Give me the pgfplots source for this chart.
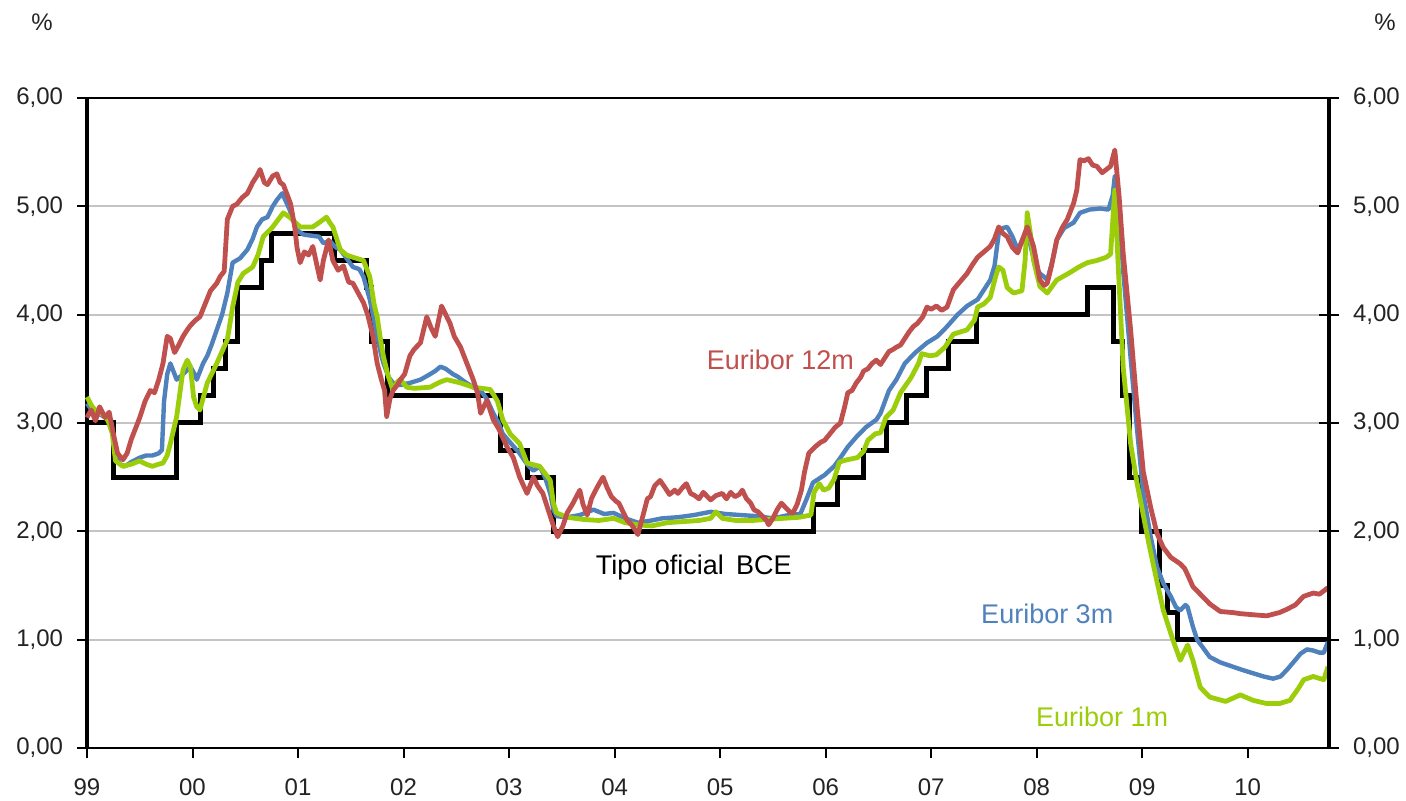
\documentclass[border=0pt]{standalone}
\usepackage{pgfplots}
\pgfplotsset{compat=1.18}
\usepackage{pgfplotstable}
\usepackage{fontspec}
\setmainfont{Liberation Sans}

\definecolor{eur12}{RGB}{192,80,77}
\definecolor{eur3}{RGB}{79,129,189}
\definecolor{eur1}{RGB}{155,205,10}
\definecolor{gridgray}{RGB}{196,196,196}
\definecolor{txt}{RGB}{35,35,35}

% ECB main refinancing rate (step series)
\pgfplotstableread{
x y
1999.00 3.00
1999.25 2.50
1999.85 3.00
2000.08 3.25
2000.20 3.50
2000.31 3.75
2000.43 4.25
2000.65 4.50
2000.75 4.75
2001.35 4.50
2001.65 4.25
2001.70 3.75
2001.85 3.25
2002.92 2.75
2003.17 2.50
2003.42 2.00
2005.88 2.25
2006.11 2.50
2006.36 2.75
2006.58 3.00
2006.77 3.25
2006.96 3.50
2007.16 3.75
2007.43 4.00
2008.48 4.25
2008.73 3.75
2008.81 3.25
2008.88 2.50
2008.99 2.00
2009.16 1.50
2009.24 1.25
2009.33 1.00
2010.77 1.00
}\bce

% Euribor 12 months
\pgfplotstableread{
x y
1999.00 3.05
1999.04 3.12
1999.08 3.02
1999.12 3.15
1999.17 3.05
1999.21 3.10
1999.25 2.90
1999.29 2.72
1999.34 2.66
1999.38 2.72
1999.42 2.85
1999.46 2.95
1999.50 3.05
1999.55 3.20
1999.60 3.30
1999.64 3.28
1999.68 3.40
1999.72 3.55
1999.76 3.80
1999.79 3.78
1999.83 3.65
1999.87 3.72
1999.91 3.80
1999.95 3.86
1999.98 3.90
2000.03 3.95
2000.07 3.98
2000.12 4.10
2000.17 4.22
2000.23 4.29
2000.26 4.35
2000.30 4.40
2000.33 4.88
2000.38 5.00
2000.42 5.02
2000.47 5.08
2000.52 5.12
2000.57 5.22
2000.61 5.28
2000.64 5.34
2000.68 5.22
2000.71 5.20
2000.76 5.28
2000.80 5.30
2000.83 5.22
2000.86 5.20
2000.90 5.10
2000.93 5.02
2000.97 4.80
2000.99 4.62
2001.02 4.48
2001.06 4.58
2001.10 4.55
2001.14 4.63
2001.18 4.45
2001.21 4.32
2001.24 4.50
2001.29 4.69
2001.33 4.50
2001.38 4.41
2001.43 4.45
2001.48 4.30
2001.52 4.29
2001.57 4.20
2001.62 4.11
2001.66 4.00
2001.71 3.80
2001.75 3.55
2001.79 3.40
2001.82 3.30
2001.84 3.06
2001.87 3.22
2001.90 3.30
2001.94 3.35
2001.97 3.40
2002.01 3.45
2002.06 3.62
2002.10 3.68
2002.16 3.74
2002.22 3.98
2002.26 3.88
2002.30 3.80
2002.36 4.08
2002.40 4.00
2002.44 3.92
2002.48 3.80
2002.54 3.70
2002.60 3.55
2002.66 3.40
2002.70 3.28
2002.73 3.09
2002.79 3.21
2002.85 3.03
2002.90 2.95
2002.98 2.78
2003.04 2.68
2003.10 2.50
2003.17 2.35
2003.23 2.50
2003.27 2.42
2003.32 2.35
2003.37 2.20
2003.42 2.05
2003.46 1.95
2003.51 2.05
2003.55 2.17
2003.60 2.25
2003.67 2.38
2003.70 2.25
2003.74 2.15
2003.78 2.30
2003.82 2.38
2003.86 2.45
2003.89 2.50
2003.93 2.40
2003.97 2.32
2004.01 2.28
2004.04 2.26
2004.08 2.18
2004.12 2.10
2004.16 2.06
2004.19 2.02
2004.22 1.97
2004.27 2.15
2004.31 2.30
2004.34 2.32
2004.38 2.42
2004.43 2.47
2004.48 2.40
2004.52 2.34
2004.57 2.38
2004.60 2.35
2004.64 2.40
2004.68 2.44
2004.72 2.35
2004.76 2.33
2004.80 2.30
2004.84 2.36
2004.88 2.32
2004.91 2.29
2004.96 2.33
2005.02 2.35
2005.06 2.30
2005.10 2.36
2005.14 2.32
2005.18 2.34
2005.21 2.38
2005.25 2.30
2005.29 2.26
2005.32 2.20
2005.36 2.18
2005.40 2.14
2005.44 2.10
2005.46 2.06
2005.50 2.12
2005.54 2.20
2005.58 2.26
2005.62 2.22
2005.66 2.18
2005.69 2.17
2005.73 2.25
2005.77 2.38
2005.80 2.55
2005.84 2.72
2005.90 2.78
2005.95 2.82
2005.99 2.84
2006.04 2.90
2006.09 2.96
2006.14 3.00
2006.18 3.15
2006.21 3.28
2006.25 3.30
2006.29 3.37
2006.33 3.42
2006.36 3.48
2006.40 3.50
2006.44 3.55
2006.48 3.58
2006.52 3.54
2006.56 3.60
2006.60 3.66
2006.64 3.68
2006.67 3.70
2006.71 3.72
2006.75 3.78
2006.79 3.84
2006.83 3.89
2006.87 3.92
2006.92 3.98
2006.96 4.07
2007.00 4.05
2007.05 4.08
2007.10 4.04
2007.15 4.07
2007.21 4.23
2007.27 4.30
2007.34 4.38
2007.39 4.46
2007.44 4.53
2007.50 4.58
2007.56 4.63
2007.60 4.70
2007.64 4.81
2007.68 4.75
2007.72 4.72
2007.77 4.62
2007.82 4.57
2007.86 4.68
2007.91 4.81
2007.94 4.72
2007.97 4.63
2008.00 4.48
2008.03 4.32
2008.07 4.27
2008.10 4.29
2008.14 4.45
2008.19 4.69
2008.24 4.80
2008.29 4.88
2008.35 5.03
2008.38 5.15
2008.41 5.43
2008.45 5.42
2008.49 5.44
2008.53 5.38
2008.57 5.37
2008.62 5.31
2008.66 5.34
2008.70 5.37
2008.74 5.52
2008.78 5.10
2008.82 4.56
2008.89 3.86
2008.95 3.16
2009.01 2.55
2009.08 2.22
2009.14 1.98
2009.20 1.85
2009.27 1.76
2009.36 1.70
2009.40 1.66
2009.43 1.60
2009.48 1.49
2009.55 1.42
2009.64 1.33
2009.74 1.26
2009.86 1.25
2009.93 1.24
2010.05 1.23
2010.18 1.22
2010.30 1.25
2010.37 1.28
2010.45 1.32
2010.53 1.40
2010.62 1.43
2010.68 1.42
2010.72 1.45
2010.76 1.48
}\eurdoce

% Euribor 3 months
\pgfplotstableread{
x y
1999.00 3.18
1999.06 3.10
1999.12 3.08
1999.18 3.05
1999.23 3.00
1999.27 2.70
1999.31 2.62
1999.36 2.60
1999.42 2.64
1999.50 2.68
1999.56 2.70
1999.62 2.70
1999.68 2.72
1999.71 2.75
1999.73 3.20
1999.76 3.45
1999.79 3.55
1999.83 3.45
1999.85 3.40
1999.91 3.45
1999.98 3.52
2000.02 3.45
2000.04 3.40
2000.10 3.55
2000.14 3.62
2000.18 3.72
2000.23 3.86
2000.28 4.00
2000.33 4.20
2000.38 4.48
2000.45 4.52
2000.52 4.60
2000.57 4.70
2000.61 4.81
2000.66 4.88
2000.71 4.90
2000.76 5.00
2000.80 5.06
2000.85 5.12
2000.92 4.97
2000.99 4.78
2001.05 4.74
2001.12 4.73
2001.20 4.72
2001.24 4.66
2001.30 4.68
2001.36 4.62
2001.40 4.60
2001.46 4.52
2001.52 4.44
2001.58 4.42
2001.62 4.35
2001.68 4.14
2001.72 3.95
2001.75 3.80
2001.79 3.62
2001.81 3.55
2001.86 3.42
2001.90 3.37
2001.97 3.35
2002.06 3.37
2002.16 3.40
2002.25 3.45
2002.30 3.48
2002.35 3.52
2002.40 3.50
2002.47 3.45
2002.51 3.43
2002.58 3.38
2002.66 3.33
2002.73 3.30
2002.79 3.22
2002.85 3.09
2002.90 3.00
2002.94 2.90
2003.01 2.82
2003.10 2.72
2003.17 2.62
2003.23 2.56
2003.29 2.60
2003.34 2.50
2003.39 2.35
2003.42 2.20
2003.45 2.14
2003.55 2.13
2003.67 2.15
2003.80 2.20
2003.90 2.16
2003.99 2.17
2004.10 2.12
2004.22 2.08
2004.35 2.10
2004.45 2.12
2004.60 2.13
2004.75 2.15
2004.91 2.18
2005.05 2.16
2005.20 2.15
2005.35 2.14
2005.50 2.12
2005.65 2.15
2005.76 2.16
2005.82 2.30
2005.88 2.45
2005.99 2.52
2006.08 2.60
2006.14 2.68
2006.21 2.78
2006.29 2.87
2006.38 2.96
2006.48 3.03
2006.52 3.09
2006.60 3.30
2006.67 3.40
2006.75 3.55
2006.85 3.65
2006.96 3.74
2007.06 3.80
2007.15 3.89
2007.25 4.00
2007.34 4.08
2007.44 4.14
2007.56 4.32
2007.60 4.45
2007.64 4.75
2007.68 4.80
2007.72 4.81
2007.77 4.72
2007.82 4.60
2007.86 4.68
2007.91 4.78
2007.95 4.60
2007.99 4.45
2008.03 4.38
2008.08 4.34
2008.10 4.32
2008.15 4.50
2008.19 4.69
2008.26 4.80
2008.35 4.85
2008.41 4.94
2008.50 4.97
2008.60 4.98
2008.68 4.97
2008.72 5.10
2008.74 5.28
2008.77 5.10
2008.82 4.40
2008.89 3.60
2008.95 2.95
2009.01 2.35
2009.08 1.95
2009.14 1.67
2009.20 1.52
2009.27 1.40
2009.32 1.30
2009.36 1.27
2009.41 1.32
2009.43 1.30
2009.48 1.12
2009.52 1.00
2009.58 0.92
2009.64 0.84
2009.74 0.79
2009.86 0.75
2009.95 0.72
2010.05 0.69
2010.15 0.66
2010.24 0.64
2010.31 0.66
2010.37 0.72
2010.44 0.80
2010.50 0.87
2010.56 0.91
2010.62 0.90
2010.68 0.88
2010.72 0.88
2010.76 0.98
}\eurtres

% Euribor 1 month
\pgfplotstableread{
x y
1999.00 3.24
1999.05 3.15
1999.10 3.10
1999.15 3.08
1999.20 3.02
1999.24 2.90
1999.27 2.65
1999.34 2.60
1999.42 2.62
1999.50 2.65
1999.56 2.62
1999.62 2.60
1999.68 2.62
1999.72 2.63
1999.76 2.70
1999.79 2.81
1999.85 3.06
1999.91 3.49
1999.95 3.58
1999.98 3.52
2000.01 3.24
2000.04 3.15
2000.07 3.12
2000.14 3.37
2000.23 3.55
2000.33 3.77
2000.38 4.07
2000.43 4.30
2000.48 4.38
2000.57 4.44
2000.62 4.55
2000.67 4.72
2000.76 4.81
2000.86 4.94
2000.92 4.90
2001.02 4.81
2001.14 4.81
2001.20 4.85
2001.27 4.90
2001.30 4.85
2001.33 4.81
2001.40 4.60
2001.46 4.55
2001.52 4.53
2001.62 4.50
2001.68 4.35
2001.72 4.10
2001.75 3.98
2001.78 3.78
2001.81 3.61
2001.85 3.45
2001.90 3.30
2001.94 3.38
2001.97 3.40
2002.03 3.33
2002.10 3.32
2002.25 3.33
2002.35 3.38
2002.41 3.40
2002.54 3.37
2002.66 3.33
2002.82 3.31
2002.86 3.25
2002.89 3.20
2002.94 3.03
2003.01 2.90
2003.10 2.81
2003.17 2.63
2003.29 2.60
2003.39 2.47
2003.42 2.26
2003.45 2.17
2003.55 2.13
2003.70 2.11
2003.85 2.10
2003.99 2.12
2004.10 2.08
2004.22 2.06
2004.35 2.05
2004.50 2.08
2004.65 2.09
2004.80 2.10
2004.91 2.12
2004.96 2.18
2005.02 2.12
2005.15 2.10
2005.30 2.10
2005.45 2.11
2005.60 2.12
2005.75 2.13
2005.86 2.15
2005.89 2.36
2005.94 2.44
2005.98 2.38
2006.03 2.40
2006.08 2.48
2006.13 2.64
2006.20 2.66
2006.30 2.68
2006.36 2.74
2006.40 2.84
2006.47 2.90
2006.52 2.91
2006.57 3.05
2006.64 3.12
2006.71 3.28
2006.76 3.35
2006.81 3.42
2006.88 3.55
2006.91 3.64
2006.99 3.62
2007.05 3.63
2007.13 3.70
2007.21 3.82
2007.34 3.86
2007.41 3.95
2007.44 4.07
2007.50 4.10
2007.56 4.16
2007.61 4.35
2007.64 4.44
2007.68 4.41
2007.72 4.25
2007.78 4.20
2007.86 4.22
2007.89 4.50
2007.91 4.94
2007.94 4.75
2007.97 4.50
2008.03 4.26
2008.10 4.20
2008.19 4.32
2008.30 4.38
2008.40 4.44
2008.48 4.48
2008.57 4.50
2008.66 4.53
2008.70 4.56
2008.74 5.15
2008.77 4.50
2008.82 3.51
2008.89 2.81
2008.95 2.45
2009.01 2.15
2009.06 1.90
2009.11 1.67
2009.20 1.27
2009.29 1.00
2009.36 0.81
2009.43 0.95
2009.48 0.81
2009.55 0.56
2009.64 0.47
2009.79 0.43
2009.93 0.49
2010.05 0.44
2010.18 0.41
2010.30 0.41
2010.40 0.44
2010.48 0.55
2010.53 0.63
2010.62 0.66
2010.72 0.63
2010.76 0.75
}\eurun

\begin{document}
\begin{tikzpicture}
\path[use as bounding box] (-43.5pt,-26.5pt) rectangle (659.5pt,374pt);
\begin{axis}[
  scale only axis,
  width=621pt, height=325pt,
  xmin=1999, xmax=2010.77,
  ymin=0, ymax=6,
  axis x line*=bottom,
  axis y line*=left,
  x axis line style={line width=1.3pt, -},
  y axis line style={line width=1.7pt, -},
  xtick={1999,2000,...,2010},
  xticklabels={99,00,01,02,03,04,05,06,07,08,09,10},
  ytick={0,1,...,6},
  yticklabels={0{,}00,1{,}00,2{,}00,3{,}00,4{,}00,5{,}00,6{,}00},
  tick align=outside,
  major tick length=5pt,
  tick style={black, line width=1pt},
  ymajorgrids,
  grid style={gridgray, line width=1pt},
  tick label style={font=\fontsize{12}{14}\selectfont, text=txt},
  xticklabel style={yshift=-7pt},
  yticklabel style={xshift=-3.5pt},
  clip=false,
]
\addplot[const plot, black, line width=2.5pt] table {\bce};
\addplot[eur3, line width=2.2pt, line join=round] table {\eurtres};
\addplot[eur1, line width=2.4pt, line join=round] table {\eurun};
\addplot[eur12, line width=2.4pt, line join=round] table {\eurdoce};
\draw[black, line width=1.2pt] (rel axis cs:0,1) -- (rel axis cs:1,1);
\node[text=eur12, font=\fontsize{13.5}{15}\selectfont] at (axis cs:2005.57,3.58) {Euribor 12m};
\node[text=black, font=\fontsize{13.5}{15}\selectfont] at (axis cs:2004.75,1.67) {Tipo oficial\, BCE};
\node[text=eur3, font=\fontsize{13.5}{15}\selectfont] at (axis cs:2008.10,1.24) {Euribor 3m};
\node[text=eur1, font=\fontsize{13.5}{15}\selectfont] at (axis cs:2008.62,0.29) {Euribor 1m};
\end{axis}
\begin{axis}[
  scale only axis,
  width=621pt, height=325pt,
  xmin=1999, xmax=2010.77,
  ymin=0, ymax=6,
  axis x line=none,
  axis y line*=right,
  y axis line style={line width=1.7pt, -},
  ytick={0,1,...,6},
  yticklabels={0{,}00,1{,}00,2{,}00,3{,}00,4{,}00,5{,}00,6{,}00},
  tick align=center,
  major tick length=10pt,
  tick style={black, line width=1pt},
  tick label style={font=\fontsize{12}{14}\selectfont, text=txt},
  yticklabel style={xshift=3.5pt},
]
\end{axis}
\node[font=\fontsize{12}{14}\selectfont, text=txt] at (-22.5pt,363pt) {\%};
\node[font=\fontsize{12}{14}\selectfont, text=txt] at (649pt,363pt) {\%};
\end{tikzpicture}
\end{document}
